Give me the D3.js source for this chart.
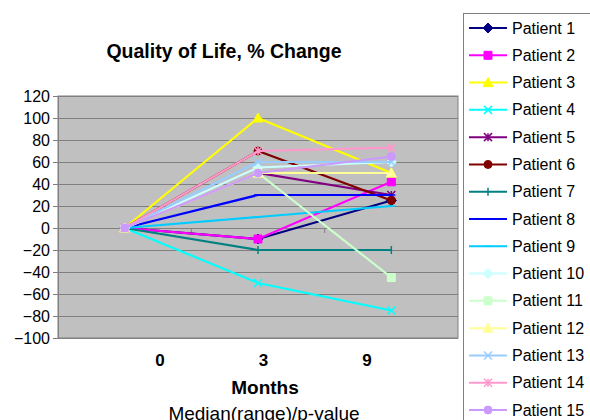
<!DOCTYPE html>
<html><head><meta charset="utf-8">
<script src="https://cdn.jsdelivr.net/npm/d3@7"></script>
<style>body{margin:0;background:#fff}svg{display:block;font-family:"Liberation Sans",Arial,sans-serif}</style>
</head><body>
<svg id="c" width="590" height="420"></svg>
<script>
const months = ["0", "3", "9"];
const yTicks = [120, 100, 80, 60, 40, 20, 0, -20, -40, -60, -80, -100];
const patientNames = ["Patient 1","Patient 2","Patient 3","Patient 4","Patient 5","Patient 6","Patient 7","Patient 8","Patient 9","Patient 10","Patient 11","Patient 12","Patient 13","Patient 14","Patient 15"];
const p1 = [0, -10, 25];
const p2 = [0, -10, 42];
const p3 = [0, 100, 50];
const p4 = [0, -50, -75];
const p5 = [0, 50, 30];
const p6 = [0, 70, 25];
const p7 = [0, -20, -20];
const p8 = [0, 30, 30];
const p9 = [0, 10, 20];
const p10 = [0, 55, 60];
const p11 = [0, 50, -45];
const p12 = [0, 50, 50];
const p13 = [0, 60, 60];
const p14 = [0, 70, 73];
const p15 = [0, 50, 65];
const seriesValues = [p1,p2,p3,p4,p5,p6,p7,p8,p9,p10,p11,p12,p13,p14,p15];
const colors = ["#000080","#FF00FF","#FFFF00","#00FFFF","#800080","#800000","#008080","#0000FF","#00CCFF","#CCFFFF","#CCFFCC","#FFFF99","#99CCFF","#FF99CC","#CC99FF"];
const shapes = ["diamond","square","triangle","x","star","circle","plus","dash","dash","diamond","square","triangle","x","star","circle"];

const svg = d3.select("#c");
const L = 58, R = 458, T = 96, B = 338;
const x = d3.scaleBand().domain(months).range([L, R]);
const xl = d3.scalePoint().domain(months).range([160, 367]);
const y = d3.scaleLinear().domain([-100, 120]).range([B, T]);

// plot area
svg.append("rect").attr("x", L).attr("y", T).attr("width", R - L).attr("height", B - T)
  .attr("fill", "#C0C0C0").attr("stroke", "#808080").attr("stroke-width", 1);

// gridlines + y axis
const yAxis = d3.axisLeft(y).tickValues(yTicks).tickSize(5).tickPadding(3);
const ga = svg.append("g").attr("transform", `translate(${L},0)`).call(yAxis);
ga.select(".domain").attr("stroke", "#808080");
ga.selectAll(".tick line").attr("stroke", "#808080");
ga.selectAll(".tick text").attr("font-size", 16).attr("fill", "#000").attr("font-family", "Liberation Sans, Arial, sans-serif");
svg.append("g").selectAll("line").data(yTicks).join("line")
  .attr("x1", L).attr("x2", R).attr("y1", d => y(d) + 0.5).attr("y2", d => y(d) + 0.5)
  .attr("stroke", "#808080").attr("stroke-width", 1.2);

// x axis on zero line with ticks at band boundaries
const bounds = months.slice(1).map(m => x(m));
svg.append("g").selectAll("line").data(bounds).join("line")
  .attr("x1", d => d).attr("x2", d => d).attr("y1", y(0)).attr("y2", y(0) + 5)
  .attr("stroke", "#808080");

// x labels
svg.append("g").selectAll("text").data(months).join("text")
  .attr("x", d => xl(d)).attr("y", 366).attr("text-anchor", "middle")
  .attr("font-size", 17).attr("font-weight", "bold").text(d => d);

// marker path builder
function marker(shape, s) {
  const h = s / 2;
  switch (shape) {
    case "diamond": return `M0,${-h-1}L${h+1},0L0,${h+1}L${-h-1},0Z`;
    case "square": return `M${-h},${-h}H${h}V${h}H${-h}Z`;
    case "triangle": return `M0,${-h-1}L${h+1},${h}L${-h-1},${h}Z`;
    case "x": return `M${-h},${-h}L${h},${h}M${-h},${h}L${h},${-h}`;
    case "star": return `M${-h},${-h}L${h},${h}M${-h},${h}L${h},${-h}M0,${-h}V${h}`;
    case "circle": return `M${h},0A${h},${h} 0 1,1 ${-h},0A${h},${h} 0 1,1 ${h},0Z`;
    case "plus": return `M0,${-h}V${h}`;
    case "dash": return `M${-h},0H${h}`;
  }
}
const filled = s => ["diamond","square","triangle","circle"].includes(s);

const line = d3.line().x((d, i) => x(months[i]) + x.bandwidth() / 2).y(d => y(d));
const plot = svg.append("g");
seriesValues.forEach((vals, k) => {
  plot.append("path").attr("d", line(vals)).attr("fill", "none")
    .attr("stroke", colors[k]).attr("stroke-width", 2.2);
  plot.selectAll(null).data(vals).join("path")
    .attr("transform", (d, i) => `translate(${x(months[i]) + x.bandwidth() / 2},${y(d)})`)
    .attr("d", marker(shapes[k], 8))
    .attr("fill", filled(shapes[k]) ? colors[k] : "none")
    .attr("stroke", colors[k]).attr("stroke-width", filled(shapes[k]) ? 1 : 1.5);
});

// title
svg.append("text").attr("x", 224).attr("y", 58).attr("text-anchor", "middle")
  .attr("font-size", 19.5).attr("font-weight", "bold").text("Quality of Life, % Change");

// axis titles
svg.append("text").attr("x", 265).attr("y", 394).attr("text-anchor", "middle")
  .attr("font-size", 19).attr("font-weight", "bold").text("Months");
svg.append("text").attr("x", 264).attr("y", 420).attr("text-anchor", "middle")
  .attr("font-size", 19).text("Median(range)/p-value");

// legend
const lg = svg.append("g");
lg.append("rect").attr("x", 463.5).attr("y", 13.5).attr("width", 140).attr("height", 420)
  .attr("fill", "#fff").attr("stroke", "#808080");
const ly = d3.scalePoint().domain(patientNames).range([28, 410]);
patientNames.forEach((n, k) => {
  const g = lg.append("g").attr("transform", `translate(0,${ly(n)})`);
  g.append("line").attr("x1", 469).attr("x2", 507).attr("stroke", colors[k]).attr("stroke-width", 2);
  g.append("path").attr("transform", "translate(488,0)").attr("d", marker(shapes[k], 8))
    .attr("fill", filled(shapes[k]) ? colors[k] : "none")
    .attr("stroke", colors[k]).attr("stroke-width", filled(shapes[k]) ? 1 : 1.5);
  g.append("text").attr("x", 512).attr("y", 5.5).attr("font-size", 16).text(n);
});
</script>
</body></html>
